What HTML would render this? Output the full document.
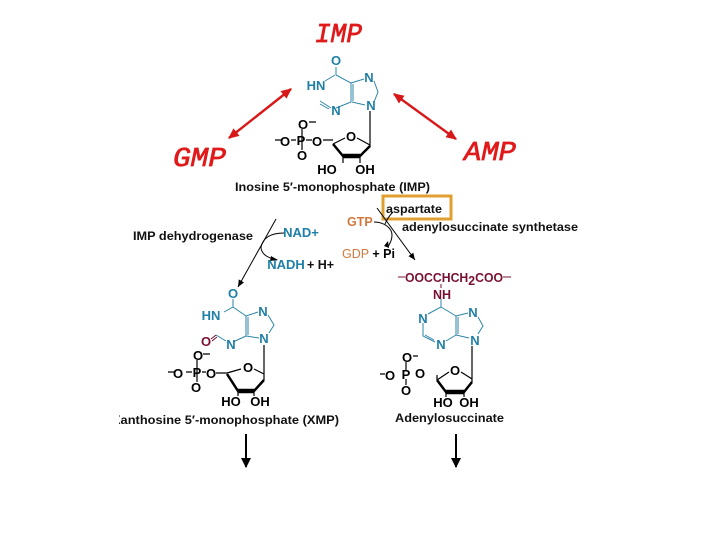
<!DOCTYPE html>
<html><head><meta charset="utf-8"><style>
html,body{margin:0;padding:0;background:#fff;overflow:hidden;width:720px;height:540px}
#root{display:block;width:720px;height:540px;filter:blur(0.35px)}
text{font-family:"Liberation Sans",sans-serif}
.t{font-size:11.5px;fill:#111}
.b{font-weight:bold}
.a{font-size:13px;font-weight:bold;fill:#1f7fa6;text-anchor:middle}
.k{font-size:13px;font-weight:bold;fill:#000;text-anchor:middle}
.o{font-size:12.5px;font-weight:bold;fill:#d2783c}
.m{font-size:12.5px;font-weight:bold;fill:#7a1030}
.h{font-family:"Liberation Mono",monospace;font-size:27px;font-style:italic;font-weight:normal;fill:#e01a1a;stroke:#e01a1a;stroke-width:.7}
.bl{stroke:#2f86a8;stroke-width:1;fill:none}
.bk{stroke:#000;stroke-width:1.2;fill:none}
</style></head><body>
<svg id="root" xmlns="http://www.w3.org/2000/svg" width="720" height="540" viewBox="0 0 720 540">
<defs>
<marker id="r" markerWidth="4.5" markerHeight="4" refX="4" refY="2" orient="auto-start-reverse" markerUnits="strokeWidth"><path d="M0 0L4.5 2L0 4Z" fill="#d81818"/></marker>
<marker id="s" markerWidth="8" markerHeight="8" refX="7" refY="3" orient="auto" markerUnits="userSpaceOnUse"><path d="M0 0L7 3L0 6Z" fill="#000"/></marker>
<marker id="d" markerWidth="12" markerHeight="10" refX="9" refY="5" orient="auto" markerUnits="userSpaceOnUse"><path d="M0 0L10 5L0 10Z" fill="#000"/></marker>
</defs>

<text class="h" x="315" y="42" textLength="47" lengthAdjust="spacingAndGlyphs">IMP</text>
<text class="h" x="173" y="166" textLength="53" lengthAdjust="spacingAndGlyphs">GMP</text>
<text class="h" x="464" y="160" textLength="52" lengthAdjust="spacingAndGlyphs">AMP</text>
<line x1="229" y1="138" x2="291" y2="89" stroke="#d81818" stroke-width="2.4" marker-start="url(#r)" marker-end="url(#r)"/>
<line x1="394" y1="94" x2="456" y2="139" stroke="#d81818" stroke-width="2.4" marker-start="url(#r)" marker-end="url(#r)"/>

<!-- IMP -->
<path class="bl" d="M336 67V75M335 75L325 81M336 75L351 83V102L336 108M351 83L364 79M374 81L378 92L374 102M352 102L365 105M353 84V101M320 101L331 108M320 104L329 109"/>
<text class="a" x="336" y="65">O</text><text class="a" x="316" y="90">HN</text>
<text class="a" x="369" y="82">N</text><text class="a" x="371" y="110">N</text><text class="a" x="336" y="115">N</text>
<path class="bk" d="M370 111V147"/>
<path class="bk" d="M333 144L345 138M357 138L370 145M275 140H281M291 140H296M306 140H312M323 140H333M309 122H316M302 129V150"/>
<path d="M333 144L343 156H360L370 146" fill="none" stroke="#000" stroke-width="2.5"/>
<path d="M343 156H360" stroke="#000" stroke-width="4.5"/>
<path class="bk" d="M343 156V163M360 156V163"/>
<text class="k" x="351" y="141">O</text><text class="k" x="285" y="146">O</text><text class="k" x="301" y="145">P</text>
<text class="k" x="317" y="146">O</text><text class="k" x="303" y="129">O</text><text class="k" x="302" y="160">O</text>
<text class="k" x="327" y="174">HO</text><text class="k" x="365" y="174">OH</text>
<text class="t b" x="235" y="191" textLength="195" lengthAdjust="spacingAndGlyphs">Inosine 5′-monophosphate (IMP)</text>

<!-- left pathway -->
<text class="t b" x="133" y="240" textLength="120" lengthAdjust="spacingAndGlyphs">IMP dehydrogenase</text>
<line x1="276" y1="219" x2="238" y2="287" stroke="#000" stroke-width="1" marker-end="url(#s)"/>
<path d="M284 233C270 233 263 238 261 247C261 254 268 258 277 260" fill="none" stroke="#000" stroke-width="1"/>
<path d="M271 256L278 260L270 261Z" fill="#000"/>
<text class="a" x="301" y="237">NAD+</text>
<text class="a" x="286" y="269">NADH</text>
<text x="307" y="269" style="font-size:12.5px;font-weight:bold" fill="#111">+ H+</text>

<!-- right pathway -->
<rect x="383" y="196" width="68" height="23" fill="none" stroke="#e0a030" stroke-width="3"/>
<text class="t b" x="386" y="213" style="font-size:12px" textLength="56" lengthAdjust="spacingAndGlyphs">aspartate</text>
<text class="o" x="347" y="226">GTP</text>
<text class="t" x="402" y="231" style="font-weight:bold" textLength="176" lengthAdjust="spacingAndGlyphs">adenylosuccinate synthetase</text>
<text x="342" y="258" style="font-size:12.5px" fill="#d2783c" textLength="53" lengthAdjust="spacingAndGlyphs">GDP <tspan fill="#000" font-weight="bold">+ Pi</tspan></text>
<line x1="377" y1="208" x2="415" y2="260" stroke="#000" stroke-width="1" marker-end="url(#s)"/>
<path d="M374 222C384 222 392 228 392 235C392 240 390 243 388 247" fill="none" stroke="#000" stroke-width="1"/>
<path d="M384 245L389 247L388 240Z" fill="#000" transform="translate(0 1)"/>
<path d="M393 212C389 216 387 219 385 224" fill="none" stroke="#000" stroke-width="1"/>
<path d="M398 277H405M503 277H511M441 284V288" stroke="#7a1030" stroke-width="1" fill="none"/>
<text class="m" x="405" y="282" textLength="98" lengthAdjust="spacingAndGlyphs">OOCCHCH<tspan dy="3">2</tspan><tspan dy="-3">COO</tspan></text>
<text class="m" x="433" y="299">NH</text>

<!-- XMP -->
<path class="bl" d="M233 299V307L224 312M233 307L246 316V336L233 342M246 316L258 312M268 315L274 325L269 333M246 336L259 338M248 317V335M216 335L226 341"/>
<path d="M211 339L216 335M212 341L217 337" stroke="#7a1030" stroke-width="1"/>
<text class="a" x="233" y="298">O</text><text class="a" x="211" y="320">HN</text>
<text class="a" x="263" y="316">N</text><text class="a" x="264" y="343">N</text><text class="a" x="231" y="349">N</text>
<text x="206" y="346" style="font-size:13px;font-weight:bold" fill="#7a1030" text-anchor="middle">O</text>
<path class="bk" d="M264 345V380M227 373L241 369M254 369L264 374M168 372H174M186 372H192M202 372H206M216 373H227M203 354H210M197 360V382"/>
<path d="M227 374L238 391H254L264 380" fill="none" stroke="#000" stroke-width="2.5"/>
<path d="M238 391H254" stroke="#000" stroke-width="4.5"/>
<path class="bk" d="M238 391V396M254 391V396"/>
<text class="k" x="248" y="372">O</text><text class="k" x="178" y="378">O</text><text class="k" x="197" y="377">P</text>
<text class="k" x="211" y="378">O</text><text class="k" x="198" y="360">O</text><text class="k" x="196" y="392">O</text>
<text class="k" x="231" y="406">HO</text><text class="k" x="260" y="406">OH</text>
<text class="t b" x="112" y="424" textLength="227" lengthAdjust="spacingAndGlyphs">Xanthosine 5′-monophosphate (XMP)</text>
<rect x="105" y="410" width="14" height="20" fill="#fff"/>
<line x1="246" y1="434" x2="246" y2="467" stroke="#000" stroke-width="2" marker-end="url(#d)"/>

<!-- Adenylosuccinate -->
<path class="bl" d="M441 299V307L428 314M441 307L456 316V335L446 341M456 316L468 313M478 317L483 326L478 334M456 335L469 338M458 317V334M423 323V336L435 342M425 335L434 340"/>
<text class="a" x="423" y="323">N</text><text class="a" x="441" y="349">N</text><text class="a" x="473" y="317">N</text><text class="a" x="475" y="345">N</text>
<path class="bk" d="M472 346V382M437 380L449 372M461 372L472 379M380 374H385M413 356H418M406 362V370M406 379V385"/>
<path d="M437 380L446 392H464L472 382" fill="none" stroke="#000" stroke-width="2.5"/>
<path d="M446 392H464" stroke="#000" stroke-width="4.5"/>
<path class="bk" d="M437 375V380M446 392V397M464 392V397"/>
<text class="k" x="455" y="375">O</text><text class="k" x="390" y="380">O</text><text class="k" x="406" y="379">P</text>
<text class="k" x="420" y="378">O</text><text class="k" x="407" y="362">O</text><text class="k" x="406" y="395">O</text>
<text class="k" x="443" y="407">HO</text><text class="k" x="469" y="407">OH</text>
<text class="t b" x="395" y="422" textLength="109" lengthAdjust="spacingAndGlyphs">Adenylosuccinate</text>
<line x1="456" y1="434" x2="456" y2="467" stroke="#000" stroke-width="2" marker-end="url(#d)"/>
</svg>
</body></html>
